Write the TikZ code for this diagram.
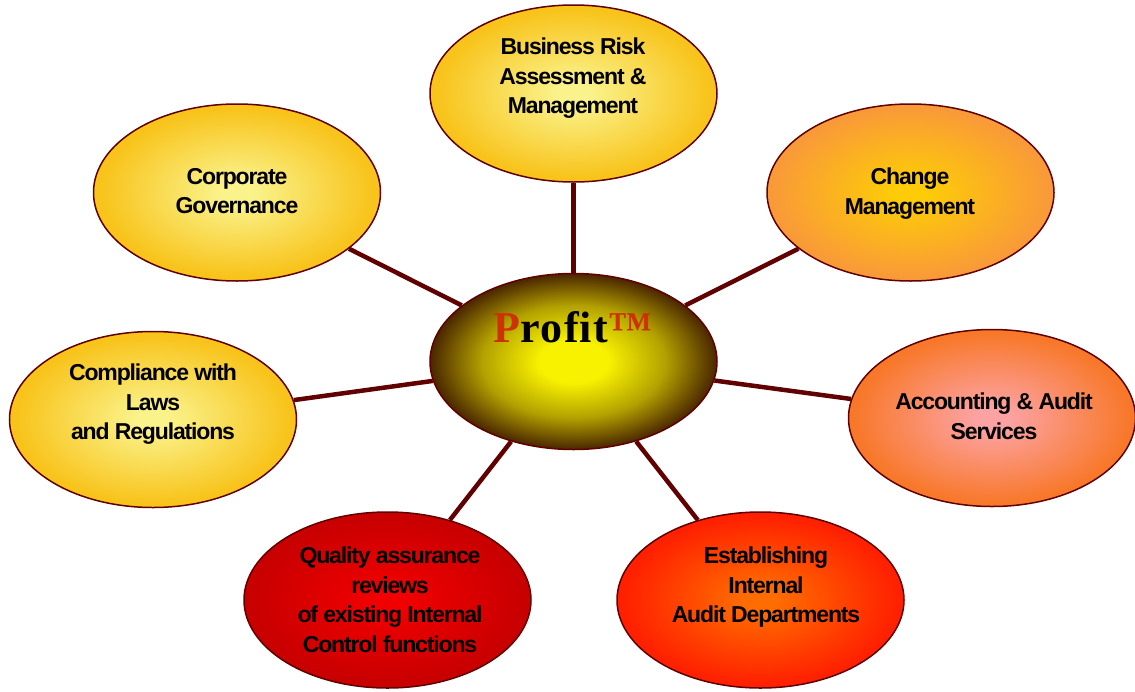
\documentclass[tikz,border=0pt]{standalone}
\usepackage{fontspec}
\setmainfont{Liberation Sans}
\newfontfamily\labfont{Liberation Sans}[LetterSpace=-5]
\newfontfamily\proffont{Liberation Serif}[LetterSpace=3]
\usetikzlibrary{shapes.geometric}
\definecolor{edgecol}{HTML}{600000}
\definecolor{profred}{HTML}{CC3300}
\definecolor{goldin}{HTML}{FAF28A}
\definecolor{goldout}{HTML}{F8C31A}
\definecolor{chgin}{HTML}{FDCB08}
\definecolor{chgout}{HTML}{F99A38}
\definecolor{accin}{HTML}{FCA2A2}
\definecolor{accout}{HTML}{F8782A}
\definecolor{estin}{HTML}{FF6C00}
\definecolor{estout}{HTML}{FF2000}
\definecolor{qualin}{HTML}{F00000}
\definecolor{qualout}{HTML}{C80000}
\definecolor{profin}{HTML}{F8F200}
\definecolor{profout}{HTML}{4A2600}
\newcommand\mkshade[3]{\pgfdeclareradialshading{#1}{\pgfpointorigin}{color(0bp)=(#2); color(3bp)=(#2); color(24bp)=(#3); color(50bp)=(#3)}}
\mkshade{shgold}{goldin}{goldout}
\mkshade{shchg}{chgin}{chgout}
\mkshade{shacc}{accin}{accout}
\mkshade{shest}{estin}{estout}
\mkshade{shqual}{qualin}{qualout}
\pgfdeclareradialshading{shprof}{\pgfpointorigin}{color(0bp)=(profin); color(6bp)=(profin); color(16bp)=(profin!60!profout); color(25bp)=(profout); color(50bp)=(profout)}
\begin{document}
\begin{tikzpicture}[x=1pt,y=-1pt,
  bubble/.style={ellipse, draw=edgecol, line width=1.5pt, minimum width=287pt, minimum height=177pt, inner sep=0pt},
  lab/.style={anchor=north, align=center, inner sep=0pt, font=\labfont\bfseries\fontsize{23}{29.5}\selectfont},
  link/.style={draw=edgecol, line width=4.5pt}]
\useasboundingbox (0,0) rectangle (1135,691);
\node[bubble, shading=shprof, minimum height=176pt] (c) at (573.5,361.5) {};
\node[bubble, shading=shgold] (risk) at (573.5,93.5) {};
\node[bubble, shading=shgold] (corp) at (237,192.5) {};
\node[bubble, shading=shchg] (chg) at (910.5,192.5) {};
\node[bubble, shading=shgold, minimum height=176pt] (comp) at (153,419.5) {};
\node[bubble, shading=shacc] (acc) at (992,418) {};
\node[bubble, shading=shest, minimum height=176pt] (est) at (760.5,600) {};
\node[bubble, shading=shqual, minimum height=176pt] (qual) at (387.5,600) {};
\draw[link] (c) -- (risk);
\draw[link] (c) -- (corp);
\draw[link] (c) -- (chg);
\draw[link] (c) -- (comp);
\draw[link] (c) -- (acc);
\draw[link] (c) -- (est);
\draw[link] (c) -- (qual);
\node[anchor=base, inner sep=0pt, font=\proffont\bfseries\fontsize{44}{50}\selectfont] (ptxt) at (573,342) {\textcolor{profred}{P}rofit\textcolor{profred}{™}};
\node[lab] (trisk) at (573,38) {Business Risk\\Assessment \&\\Management};
\node[lab] (tcorp) at (237,168) {Corporate\\Governance};
\node[lab] (tchg) at (910,168) {Change\\Management};
\node[lab] (tcomp) at (153,364) {Compliance with\\Laws\\and Regulations};
\node[lab] (tacc) at (994,393) {Accounting \& Audit\\Services};
\node[lab] (test) at (766,547) {Establishing\\Internal\\Audit Departments};
\node[lab] (tqual) at (390,547) {Quality assurance\\reviews\\of existing Internal\\Control functions};
\end{tikzpicture}
\end{document}
